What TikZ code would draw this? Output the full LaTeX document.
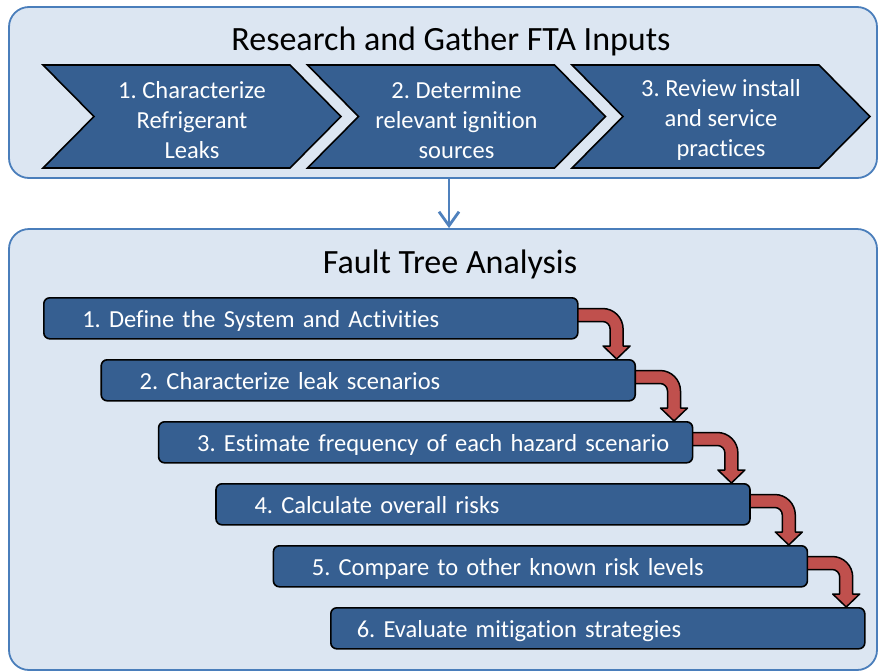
\documentclass[tikz,border=0pt]{standalone}
\usepackage{fontspec}
\setmainfont{Carlito}[Ligatures=NoCommon]
\usetikzlibrary{calc,arrows.meta}
\frenchspacing
\definecolor{boxfill}{HTML}{DCE6F2}
\definecolor{boxline}{HTML}{4A7EBB}
\definecolor{darkblue}{HTML}{365F91}
\definecolor{arrowred}{HTML}{C0504D}
\definecolor{linkblue}{HTML}{4F81BD}
\pgfdeclarelayer{bglayer}
\pgfdeclarelayer{midlayer}
\pgfsetlayers{bglayer,midlayer,main}
\newcommand\bentconn[2]{%
  \filldraw[redarrow] ($(#1.north east)+(-4,-11.5)$) -- ++(28,0)
    arc[start angle=90,end angle=0,radius=20.5] -- ++(0,-17) -- ++(7,0)
    -- ($(#2.north east)+(-19.4,0)$) -- ++(-13.5,13) -- ++(7,0) -- ++(0,17)
    arc[start angle=0,end angle=90,radius=7.5] -- ++(-28,0) -- cycle;}
\begin{document}
\begin{tikzpicture}[x=1pt,y=1pt,
  outerbox/.style={draw=boxline,fill=boxfill,line width=1.8pt,rounded corners=20pt,minimum width=868pt},
  titletext/.style={font=\fontsize{34}{40}\selectfont,anchor=base},
  chevron/.style={draw=black,fill=darkblue,line width=1.6pt},
  chevtext/.style={text=white,align=center,font=\fontsize{24.5}{30}\selectfont},
  stepbar/.style={draw=black,fill=darkblue,line width=1.6pt,rounded corners=6pt,
    anchor=north west,minimum height=41pt,text=white,align=left,
    text height=21pt,text depth=3pt,
    font=\fontsize{24.5}{30}\selectfont,inner ysep=0pt},
  redarrow/.style={draw=black,fill=arrowred,line width=1.5pt,line join=round},
  linkarrow/.style={draw=linkblue,line width=2.8pt,-{Straight Barb[length=14pt,width=20pt,line width=2.8pt]}}]
\useasboundingbox (0,0) rectangle (878,-670);
% outer boxes
\begin{pgfonlayer}{bglayer}
\node[outerbox,minimum height=171pt] (inbox) at (443,-92.5) {};
\node[outerbox,minimum height=441pt] (ftabox) at (443,-449.5) {};
\end{pgfonlayer}
\node[titletext] (t1) at (451,-50) {Research and Gather FTA Inputs};
\node[titletext] (t2) at (450,-273) {Fault Tree Analysis};
% chevrons
\foreach \L/\nm/\txt in {43/c1/{1. Characterize\\Refrigerant\\Leaks},
                         307.5/c2/{2. Determine\\relevant ignition\\sources},
                         572/c3/{3. Review install\\and service\\practices}}{
  \draw[chevron] (\L,-65) -- ++(247,0) -- ++(51,-51.5) -- ++(-51,-51.5) -- ++(-247,0) -- ++(51,51.5) -- cycle;
  \node[chevtext] (\nm) at (\L+149,-120) {\txt};
}
% link arrow
\draw[linkarrow] ($(inbox.south)+(6,0)$) -- ($(ftabox.north)+(6,0)$);
% steps
\node[stepbar,text width=457pt,inner xsep=38.5pt] (b1) at (43,-297) {\mbox{1. Define the System and Activities}};
\node[stepbar,text width=457pt,inner xsep=38.5pt] (b2) at (100.4,-359) {\mbox{2. Characterize leak scenarios}};
\node[stepbar,text width=457pt,inner xsep=38.5pt] (b3) at (157.8,-421) {\mbox{3. Estimate frequency of each hazard scenario}};
\node[stepbar,text width=457pt,inner xsep=38.5pt] (b4) at (215.2,-483) {\mbox{4. Calculate overall risks}};
\node[stepbar,text width=457pt,inner xsep=38.5pt] (b5) at (272.6,-545) {\mbox{5. Compare to other known risk levels}};
\node[stepbar,text width=482pt,inner xsep=26pt] (b6) at (330,-607) {\mbox{6. Evaluate mitigation strategies}};
\begin{pgfonlayer}{midlayer}
\bentconn{b1}{b2}
\bentconn{b2}{b3}
\bentconn{b3}{b4}
\bentconn{b4}{b5}
\bentconn{b5}{b6}
\end{pgfonlayer}
\end{tikzpicture}
\end{document}
